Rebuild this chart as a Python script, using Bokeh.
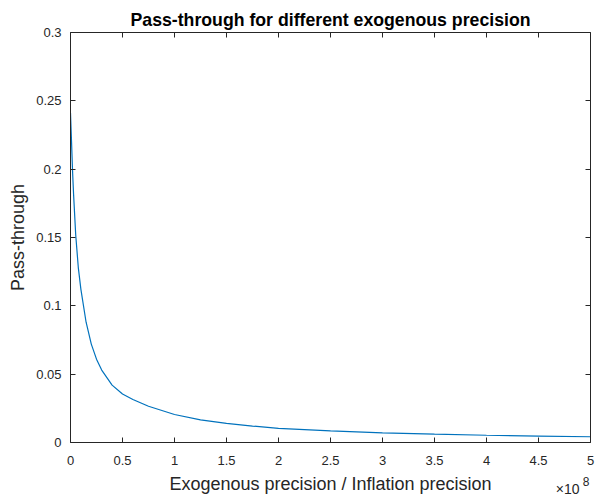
from bokeh.plotting import figure
from bokeh.models import LinearAxis, FixedTicker, Title, Range1d
from bokeh.embed import file_html
from bokeh.resources import INLINE

# Data (x in raw units)
exog_precision = [0, 0.01e8, 0.02e8, 0.03e8, 0.05e8, 0.075e8, 0.1e8, 0.15e8, 0.2e8,
                  0.25e8, 0.3e8, 0.4e8, 0.5e8, 0.6e8, 0.75e8, 1.0e8, 1.25e8, 1.5e8,
                  1.75e8, 2.0e8, 2.5e8, 3.0e8, 3.5e8, 4.0e8, 4.5e8, 5.0e8]
pass_through = [0.241, 0.220, 0.198, 0.181, 0.152, 0.128, 0.112, 0.088, 0.072,
                0.061, 0.053, 0.042, 0.0355, 0.0315, 0.0265, 0.0205, 0.0165, 0.0140,
                0.0120, 0.0104, 0.0085, 0.0071, 0.0061, 0.0053, 0.0047, 0.0042]

x_ticks = [0, 0.5e8, 1e8, 1.5e8, 2e8, 2.5e8, 3e8, 3.5e8, 4e8, 4.5e8, 5e8]
x_tick_labels = ["0", "0.5", "1", "1.5", "2", "2.5", "3", "3.5", "4", "4.5", "5"]
y_ticks = [0, 0.05, 0.1, 0.15, 0.2, 0.25, 0.3]
y_tick_labels = ["0", "0.05", "0.1", "0.15", "0.2", "0.25", "0.3"]
x_exponent_base = "×10"
x_exponent = "8"

FONT = "Liberation Sans"
DARK = "#262626"

p = figure(width=595, height=496, output_backend="svg", toolbar_location=None,
           x_range=Range1d(0, 5e8), y_range=Range1d(0, 0.3),
           min_border_left=70, min_border_right=5, min_border_top=32, min_border_bottom=53,
           x_axis_location=None, y_axis_location=None)

p.title.text = "Pass-through for different exogenous precision"
p.title.text_font = FONT
p.title.text_font_size = "17.7px"
p.title.text_font_style = "bold"
p.title.text_color = "black"
p.title.align = "center"
p.title.offset = 0
p.title.standoff = 5

p.xgrid.visible = False
p.ygrid.visible = False
p.outline_line_color = None

def style(ax):
    ax.axis_line_color = DARK
    ax.major_tick_line_color = DARK
    ax.major_tick_in = 5
    ax.major_tick_out = 0
    ax.minor_tick_line_color = None
    ax.major_label_text_font = FONT
    ax.major_label_text_font_size = "13px"
    ax.major_label_text_color = DARK
    ax.axis_label_text_font = FONT
    ax.axis_label_text_font_size = "18px"
    ax.axis_label_text_font_style = "normal"
    ax.axis_label_text_color = DARK

xb = LinearAxis(ticker=FixedTicker(ticks=x_ticks),
                major_label_overrides=dict(zip(x_ticks, x_tick_labels)),
                axis_label="Exogenous precision / Inflation precision")
style(xb)
xb.major_label_standoff = 13
xb.axis_label_standoff = 6
p.add_layout(xb, "below")

yl = LinearAxis(ticker=FixedTicker(ticks=y_ticks),
                major_label_overrides=dict(zip(y_ticks, y_tick_labels)),
                axis_label="Pass-through")
style(yl)
yl.major_label_standoff = 9
yl.axis_label_standoff = 5
p.add_layout(yl, "left")

xt = LinearAxis(ticker=FixedTicker(ticks=x_ticks),
                major_label_overrides={t: "" for t in x_ticks})
style(xt)
xt.major_label_standoff = 0
xt.major_label_text_font_size = "1px"
p.add_layout(xt, "above")

yr = LinearAxis(ticker=FixedTicker(ticks=y_ticks),
                major_label_overrides={t: "" for t in y_ticks})
style(yr)
yr.major_label_standoff = 0
yr.major_label_text_font_size = "1px"
p.add_layout(yr, "right")

p.line(exog_precision, pass_through, line_color="#0072BD", line_width=1.2)

t_base = Title(text=x_exponent_base, align="right", vertical_align="top",
               offset=11, standoff=-32, text_font=FONT, text_font_size="14px",
               text_font_style="normal", text_color=DARK)
t_exp = Title(text=x_exponent, align="right", vertical_align="top",
              offset=1, standoff=-40, text_font=FONT, text_font_size="12px",
              text_font_style="normal", text_color=DARK)
p.add_layout(t_base, "below")
p.add_layout(t_exp, "below")

open("out.html", "w").write(file_html(p, INLINE))
